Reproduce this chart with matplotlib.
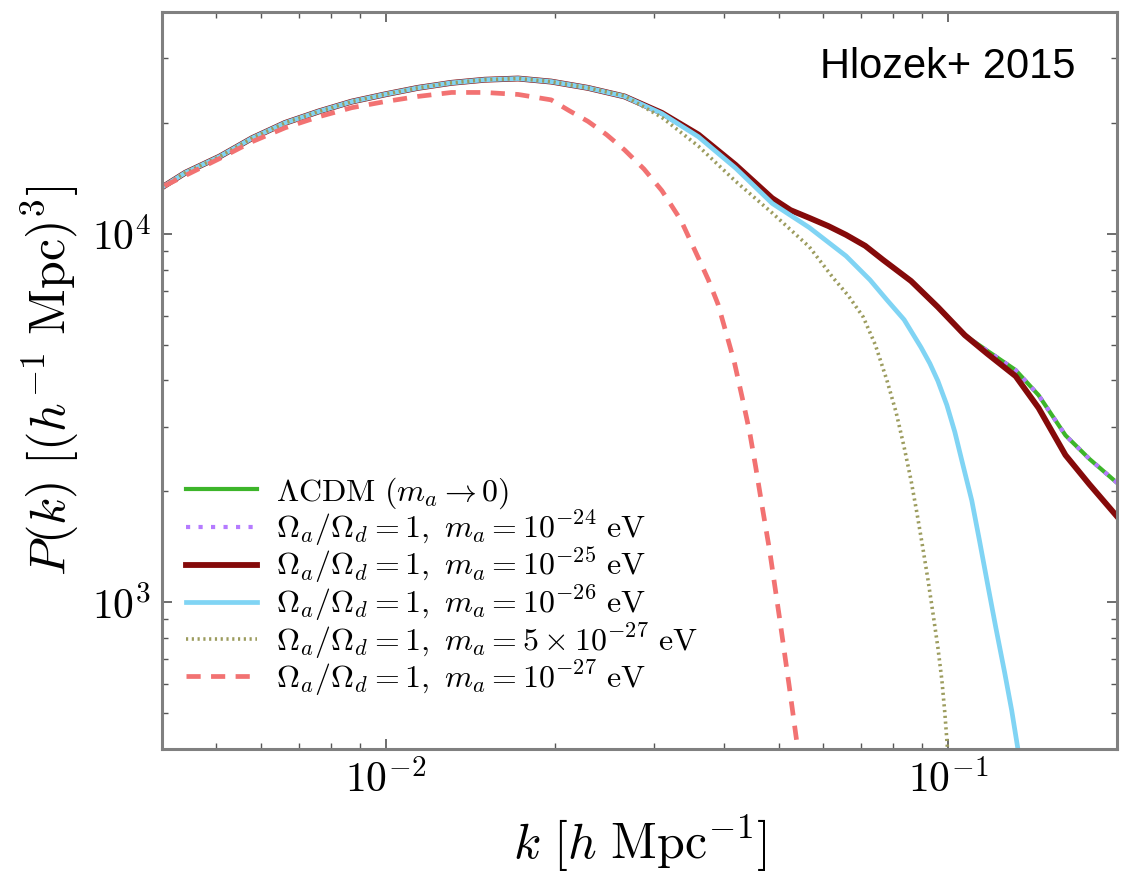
import numpy as np
import matplotlib
matplotlib.use("Agg")
import matplotlib.pyplot as plt
from matplotlib.ticker import LogLocator, FuncFormatter, NullFormatter

plt.rcParams['mathtext.fontset'] = 'cm'
plt.rcParams['font.family'] = ['DejaVu Serif']

# 读图得到的数值 (k in h/Mpc, P in (Mpc/h)^3)
k_cdm = [0.00404, 0.00440, 0.00506, 0.00579, 0.00662, 0.00761, 0.00870, 0.00996, 0.0114, 0.0131,
         0.0150, 0.0172, 0.0197, 0.0229, 0.0266, 0.0310, 0.0360, 0.0419, 0.0487, 0.0525,
         0.0567, 0.0613, 0.0659, 0.0713, 0.0767, 0.0860, 0.0960, 0.1072, 0.1177, 0.1320,
         0.1450, 0.1619, 0.1786, 0.2]
P_cdm = [1.35e4, 1.465e4, 1.62e4, 1.82e4, 2.00e4, 2.15e4, 2.285e4, 2.39e4, 2.49e4, 2.57e4,
         2.62e4, 2.64e4, 2.59e4, 2.49e4, 2.36e4, 2.13e4, 1.86e4, 1.54e4, 1.25e4, 1.16e4,
         1.105e4, 1.05e4, 9940, 9280, 8500, 7450, 6330, 5310, 4810, 4270,
         3650, 2840, 2450, 2110]

k_m24 = k_cdm
P_m24 = P_cdm

k_m25 = k_cdm
P_m25 = [1.35e4, 1.465e4, 1.62e4, 1.82e4, 2.00e4, 2.15e4, 2.285e4, 2.39e4, 2.49e4, 2.57e4,
         2.62e4, 2.64e4, 2.59e4, 2.49e4, 2.36e4, 2.13e4, 1.86e4, 1.54e4, 1.25e4, 1.16e4,
         1.105e4, 1.05e4, 9940, 9280, 8500, 7450, 6330, 5310, 4720, 4110,
         3370, 2510, 2090, 1710]

k_m26 = [0.00404, 0.00440, 0.00506, 0.00579, 0.00662, 0.00761, 0.00870, 0.00996, 0.0114, 0.0131,
         0.0150, 0.0172, 0.0197, 0.0229, 0.0266, 0.0310, 0.0360, 0.0419, 0.0487, 0.0567,
         0.0659, 0.0727, 0.0779, 0.0836, 0.0896, 0.0929, 0.0960, 0.0996, 0.1029, 0.1063,
         0.1103, 0.1139, 0.1177, 0.1217, 0.1262, 0.1299, 0.1336]
P_m26 = [1.35e4, 1.465e4, 1.62e4, 1.82e4, 2.00e4, 2.15e4, 2.285e4, 2.39e4, 2.49e4, 2.57e4,
         2.62e4, 2.64e4, 2.59e4, 2.49e4, 2.36e4, 2.12e4, 1.835e4, 1.51e4, 1.21e4, 1.04e4,
         8710, 7500, 6620, 5850, 4920, 4450, 3990, 3430, 2900, 2370,
         1890, 1465, 1120, 855, 645, 509, 390]

k_5m27 = [0.00404, 0.00440, 0.00506, 0.00579, 0.00662, 0.00761, 0.00870, 0.00996, 0.0114, 0.0131,
          0.0150, 0.0172, 0.0197, 0.0229, 0.0266, 0.0310, 0.0360, 0.0419, 0.0487, 0.0567,
          0.0625, 0.0665, 0.0707, 0.0743, 0.0779, 0.0809, 0.0836, 0.0860, 0.0881, 0.0903,
          0.0922, 0.0941, 0.0960, 0.0976, 0.0988, 0.1000]
P_5m27 = [1.35e4, 1.465e4, 1.62e4, 1.82e4, 2.00e4, 2.15e4, 2.285e4, 2.39e4, 2.49e4, 2.57e4,
          2.62e4, 2.64e4, 2.59e4, 2.49e4, 2.37e4, 2.07e4, 1.73e4, 1.39e4, 1.14e4, 9220,
          7600, 6800, 5950, 5000, 4010, 3280, 2640, 2145, 1750, 1400,
          1150, 933, 755, 614, 499, 390]

k_m27 = [0.00404, 0.00506, 0.00579, 0.00662, 0.00761, 0.00870, 0.00996, 0.0114, 0.0131, 0.0150,
         0.0172, 0.0197, 0.0212, 0.0229, 0.0247, 0.0266, 0.0288, 0.0310, 0.0335, 0.0360,
         0.0375, 0.0390, 0.0402, 0.0417, 0.0431, 0.0444, 0.0455, 0.0468, 0.0482, 0.0502,
         0.0522, 0.0542]
P_m27 = [1.35e4, 1.60e4, 1.78e4, 1.94e4, 2.08e4, 2.20e4, 2.285e4, 2.36e4, 2.42e4, 2.42e4,
         2.39e4, 2.31e4, 2.16e4, 2.02e4, 1.86e4, 1.69e4, 1.50e4, 1.31e4, 1.09e4, 8600,
         7500, 6450, 5480, 4490, 3580, 2900, 2340, 1800, 1380, 905,
         595, 390]

labels = [r'$\Lambda{\rm CDM}\ (m_a\rightarrow 0)$',
          r'$\Omega_a/\Omega_d=1,\ m_a=10^{-24}\ {\rm eV}$',
          r'$\Omega_a/\Omega_d=1,\ m_a=10^{-25}\ {\rm eV}$',
          r'$\Omega_a/\Omega_d=1,\ m_a=10^{-26}\ {\rm eV}$',
          r'$\Omega_a/\Omega_d=1,\ m_a=5\times10^{-27}\ {\rm eV}$',
          r'$\Omega_a/\Omega_d=1,\ m_a=10^{-27}\ {\rm eV}$']

fig = plt.figure(figsize=(11.32, 8.72), dpi=100)
ax = fig.add_axes([0.1431, 0.1411, 0.8437, 0.8451])

ax.plot(k_cdm, P_cdm, color='#3db52a', lw=3.0, ls='-', label=labels[0])
ax.plot(k_m24, P_m24, color='#b57bff', lw=3.0, ls=(0, (1, 2)), label=labels[1])
ax.plot(k_m25, P_m25, color='#850a0a', lw=4.2, ls='-', label=labels[2])
ax.plot(k_m26, P_m26, color='#80d4f4', lw=3.4, ls='-', label=labels[3])
ax.plot(k_5m27, P_5m27, color='#9c9c5e', lw=2.6, ls=(0, (0.6, 1.0)), label=labels[4])
ax.plot(k_m27, P_m27, color='#f27272', lw=3.4, ls=(0, (3, 2.2)), label=labels[5])

ax.set_xscale('log')
ax.set_yscale('log')
ax.set_xlim(0.004, 0.2)
ax.set_ylim(400, 4e4)

fmt = FuncFormatter(lambda v, p: r'$10^{%d}$' % int(round(np.log10(v))))
ax.xaxis.set_major_formatter(fmt)
ax.yaxis.set_major_formatter(fmt)
ax.xaxis.set_minor_formatter(NullFormatter())
ax.yaxis.set_minor_formatter(NullFormatter())
ax.xaxis.set_minor_locator(LogLocator(base=10, subs=np.arange(2, 10)))
ax.yaxis.set_minor_locator(LogLocator(base=10, subs=np.arange(2, 10)))

for s in ax.spines.values():
    s.set_color('#808080')
    s.set_linewidth(2.2)
ax.tick_params(which='both', direction='in', top=True, right=True, color='#555555')
ax.tick_params(which='major', length=7, width=1.2, labelsize=30, pad=8)
ax.tick_params(which='minor', length=4, width=1.0)

ax.set_xlabel(r'$k\ [h\ {\rm Mpc}^{-1}]$', fontsize=36, labelpad=8)
ax.set_ylabel(r'$P(k)\ [(h^{-1}\ {\rm Mpc})^3]$', fontsize=36, labelpad=8)

ax.text(0.956, 0.926, 'Hlozek+ 2015', transform=ax.transAxes, ha='right', va='center',
        fontsize=30, family=['Liberation Sans'], color='black')

leg = ax.legend(loc='lower left', bbox_to_anchor=(0.012, 0.052), borderaxespad=0,
                frameon=False, fontsize=23, handlelength=2.2,
                labelspacing=-0.07, handletextpad=0.6)

fig.savefig('out.png', dpi=100)
